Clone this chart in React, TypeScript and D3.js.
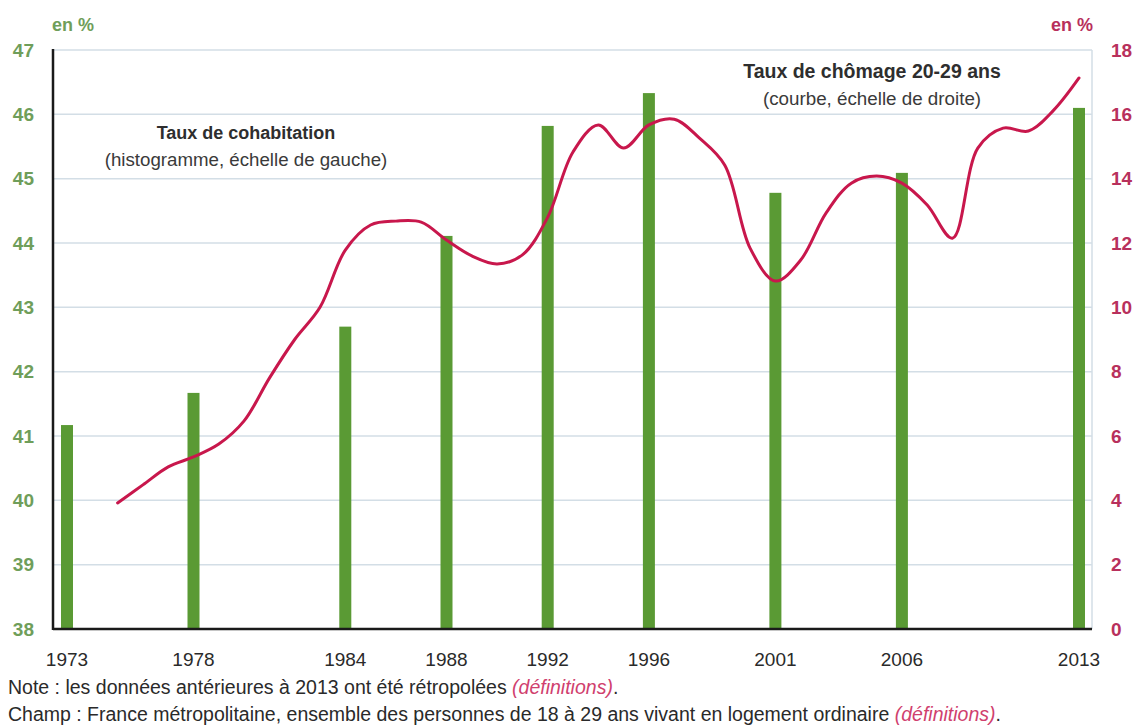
import React, { useEffect, useRef } from 'react';
import * as d3 from 'd3';

// Taux de cohabitation (histogramme, échelle de gauche)
const barYears = [1973, 1978, 1984, 1988, 1992, 1996, 2001, 2006, 2013];
const barValues = [41.17, 41.67, 42.7, 44.11, 45.82, 46.33, 44.78, 45.09, 46.1];

// Taux de chômage 20-29 ans (courbe, échelle de droite)
const lineYears = [
  1975, 1976, 1977, 1978, 1979, 1980, 1981, 1982, 1983, 1984,
  1985, 1986, 1987, 1988, 1989, 1990, 1991, 1992, 1993, 1994,
  1995, 1996, 1997, 1998, 1999, 2000, 2001, 2002, 2003, 2004,
  2005, 2006, 2007, 2008, 2009, 2010, 2011, 2012, 2013,
];
const lineValues = [
  3.92, 4.48, 5.04, 5.35, 5.75, 6.47, 7.8, 9.0, 10.0, 11.78,
  12.56, 12.68, 12.65, 12.09, 11.6, 11.35, 11.63, 12.8, 14.83, 15.67,
  14.95, 15.67, 15.85, 15.26, 14.42, 11.84, 10.82, 11.47, 12.93, 13.86,
  14.08, 13.86, 13.18, 12.15, 14.95, 15.57, 15.48, 16.13, 17.13,
];

const leftTicks = [38, 39, 40, 41, 42, 43, 44, 45, 46, 47];
const rightTicks = [0, 2, 4, 6, 8, 10, 12, 14, 16, 18];
const xTicks = [1973, 1978, 1984, 1988, 1992, 1996, 2001, 2006, 2013];

const GREEN = '#5a9a34';
const GREEN_TXT = '#6f9e5a';
const RED = '#c8174c';
const RED_TXT = '#b8305c';
const GRID = '#d3dee6';
const FONT = '"Liberation Sans", Arial, sans-serif';

export default function App() {
  const svgRef = useRef<SVGSVGElement>(null);
  const width = 1134;
  const height = 727;

  useEffect(() => {
    if (!svgRef.current) return;
    const svg = d3.select(svgRef.current);
    svg.selectAll('*').remove();

    const left = 53;
    const right = 1092;
    const top = 50;
    const bottom = 629;

    const x = d3.scaleLinear().domain([1973, 2013]).range([67, 1079]);
    const yL = d3.scaleLinear().domain([38, 47]).range([bottom, top]);
    const yR = d3.scaleLinear().domain([0, 18]).range([bottom, top]);

    svg.append('rect').attr('width', width).attr('height', height).attr('fill', '#fff');

    // Gridlines
    svg.append('g')
      .selectAll('line')
      .data(leftTicks.slice(1))
      .join('line')
      .attr('x1', left)
      .attr('x2', right)
      .attr('y1', d => yL(d))
      .attr('y2', d => yL(d))
      .attr('stroke', GRID)
      .attr('stroke-width', 1.5);

    // right border
    svg.append('line')
      .attr('x1', right).attr('x2', right)
      .attr('y1', top).attr('y2', bottom)
      .attr('stroke', GRID).attr('stroke-width', 1.5);

    // Bars
    const bw = 12;
    svg.append('g')
      .selectAll('rect')
      .data(barYears.map((yr, i) => ({ yr, v: barValues[i] })))
      .join('rect')
      .attr('x', d => x(d.yr) - bw / 2)
      .attr('y', d => yL(d.v))
      .attr('width', bw)
      .attr('height', d => yL(38) - yL(d.v))
      .attr('fill', GREEN);

    // Axes lines
    svg.append('line')
      .attr('x1', left).attr('x2', left)
      .attr('y1', top - 1).attr('y2', bottom + 1)
      .attr('stroke', '#1a1a1a').attr('stroke-width', 2.5);
    svg.append('line')
      .attr('x1', left).attr('x2', right)
      .attr('y1', bottom).attr('y2', bottom)
      .attr('stroke', '#1a1a1a').attr('stroke-width', 2.5);

    // Curve
    const line = d3.line<number>()
      .x((_, i) => x(lineYears[i]))
      .y(d => yR(d))
      .curve(d3.curveCatmullRom.alpha(0.5));
    svg.append('path')
      .datum(lineValues)
      .attr('fill', 'none')
      .attr('stroke', RED)
      .attr('stroke-width', 3)
      .attr('stroke-linecap', 'round')
      .attr('d', line);

    // Left ticks
    svg.append('g')
      .selectAll('text')
      .data(leftTicks)
      .join('text')
      .attr('x', 34)
      .attr('y', d => yL(d))
      .attr('dy', '0.35em')
      .attr('text-anchor', 'end')
      .attr('font-family', FONT)
      .attr('font-size', 19)
      .attr('font-weight', 'bold')
      .attr('fill', GREEN_TXT)
      .text(d => d);

    // Right ticks
    svg.append('g')
      .selectAll('text')
      .data(rightTicks)
      .join('text')
      .attr('x', 1111)
      .attr('y', d => yR(d))
      .attr('dy', '0.35em')
      .attr('text-anchor', 'start')
      .attr('font-family', FONT)
      .attr('font-size', 19)
      .attr('font-weight', 'bold')
      .attr('fill', RED_TXT)
      .text(d => d);

    // X ticks
    svg.append('g')
      .selectAll('text')
      .data(xTicks)
      .join('text')
      .attr('x', d => x(d))
      .attr('y', 666)
      .attr('text-anchor', 'middle')
      .attr('font-family', FONT)
      .attr('font-size', 19)
      .attr('fill', '#2a2a2a')
      .text(d => d);

    // Units
    svg.append('text')
      .attr('x', 52).attr('y', 31)
      .attr('font-family', FONT).attr('font-size', 18).attr('font-weight', 'bold')
      .attr('fill', GREEN_TXT)
      .text('en %');
    svg.append('text')
      .attr('x', 1093).attr('y', 31)
      .attr('text-anchor', 'end')
      .attr('font-family', FONT).attr('font-size', 18).attr('font-weight', 'bold')
      .attr('fill', RED_TXT)
      .text('en %');

    // Annotations
    const annot = (cx: number, y: number, t1: string, t2: string, s1: number, s2: number) => {
      svg.append('text')
        .attr('x', cx).attr('y', y)
        .attr('text-anchor', 'middle')
        .attr('font-family', FONT).attr('font-size', s1).attr('font-weight', 'bold')
        .attr('fill', '#2e2e2e')
        .text(t1);
      svg.append('text')
        .attr('x', cx).attr('y', y + 27)
        .attr('text-anchor', 'middle')
        .attr('font-family', FONT).attr('font-size', s2)
        .attr('fill', '#3a3a3a')
        .text(t2);
    };
    annot(246, 139, 'Taux de cohabitation', '(histogramme, échelle de gauche)', 18, 18.7);
    annot(872, 78, 'Taux de chômage 20-29 ans', '(courbe, échelle de droite)', 19.5, 18.8);

    // Notes
    const note = (y: number, main: string) => {
      const t = svg.append('text')
        .attr('x', 8).attr('y', y)
        .attr('font-family', FONT).attr('font-size', 19.5)
        .attr('fill', '#2a2a2a');
      t.append('tspan').text(main + ' ');
      t.append('tspan')
        .attr('font-style', 'italic')
        .attr('fill', '#d0406e')
        .text('(définitions)');
      t.append('tspan').text('.');
    };
    note(694, 'Note : les données antérieures à 2013 ont été rétropolées');
    note(721, 'Champ : France métropolitaine, ensemble des personnes de 18 à 29 ans vivant en logement ordinaire');
  }, []);

  return (
    <div style={{ position: 'absolute', left: 0, top: 0, width, height, background: '#fff' }}>
      <svg ref={svgRef} width={width} height={height} style={{ display: 'block' }} />
    </div>
  );
}
